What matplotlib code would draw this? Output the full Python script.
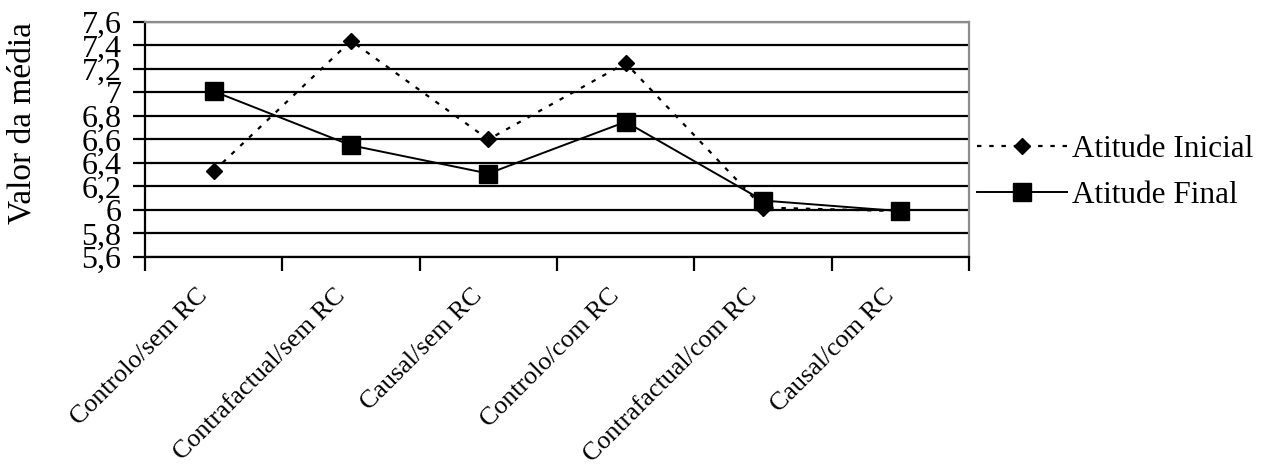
import matplotlib.pyplot as plt
import matplotlib.transforms as mtransforms
import numpy as np

categories = ['Controlo/sem RC', 'Contrafactual/sem RC', 'Causal/sem RC',
              'Controlo/com RC', 'Contrafactual/com RC', 'Causal/com RC']
atitude_inicial = [6.33, 7.44, 6.60, 7.25, 6.02, 5.99]
atitude_final = [7.01, 6.55, 6.31, 6.75, 6.08, 5.99]
y_ticks = [5.6, 5.8, 6.0, 6.2, 6.4, 6.6, 6.8, 7.0, 7.2, 7.4, 7.6]
y_labels = ['5,6', '5,8', '6', '6,2', '6,4', '6,6', '6,8', '7', '7,2', '7,4', '7,6']

plt.rcParams['font.family'] = ['Liberation Serif', 'DejaVu Serif']

fig = plt.figure(figsize=(12.71, 4.68), dpi=100)
ax = fig.add_axes([0.1141, 0.451, 0.6483, 0.502])

x = np.arange(len(categories)) + 0.5

for yv in y_ticks:
    ax.axhline(yv, color='black', lw=1.6, zorder=1)

ax.plot(x, atitude_inicial, color='black', lw=1.6, linestyle=(0, (2, 3.5)),
        marker='D', markersize=8.5, label='Atitude Inicial', zorder=3)
ax.plot(x, atitude_final, color='black', lw=1.4, linestyle='-',
        marker='s', markersize=13, label='Atitude Final', zorder=4)

ax.set_xlim(0, len(categories))
ax.set_ylim(5.6, 7.6)
ax.set_yticks(y_ticks)
ax.set_yticklabels(y_labels, fontsize=23)
ax.set_xticks(np.arange(len(categories) + 1))
ax.set_xticklabels([])
ax.set_xticks(x, minor=True)
ax.set_xticklabels(categories, minor=True, rotation=45, ha='right',
                   rotation_mode='anchor', fontsize=18.7)
ax.tick_params(axis='x', which='minor', length=0, pad=20)
ax.tick_params(axis='x', which='major', length=10, width=1.6, direction='out')
ax.tick_params(axis='y', length=9, width=1.6, direction='out', pad=8)

# shift category labels a little to the left, like the original
shift = mtransforms.ScaledTranslation(-0.17, 0, fig.dpi_scale_trans)
for lbl in ax.get_xticklabels(minor=True):
    lbl.set_transform(lbl.get_transform() + shift)

for s in ['top', 'right']:
    ax.spines[s].set_color('#8c8c8c')
    ax.spines[s].set_linewidth(1.6)
for s in ['left', 'bottom']:
    ax.spines[s].set_color('black')
    ax.spines[s].set_linewidth(1.6)

ax.set_ylabel('Valor da média', fontsize=24)
ax.yaxis.set_label_coords(-0.13, 0.57)

ax.legend(loc='center left', bbox_to_anchor=(0.975, 0.36), frameon=False,
          fontsize=22.5, handlelength=2.9, handletextpad=0.15, labelspacing=0.55)

fig.savefig('out.png', dpi=100)
